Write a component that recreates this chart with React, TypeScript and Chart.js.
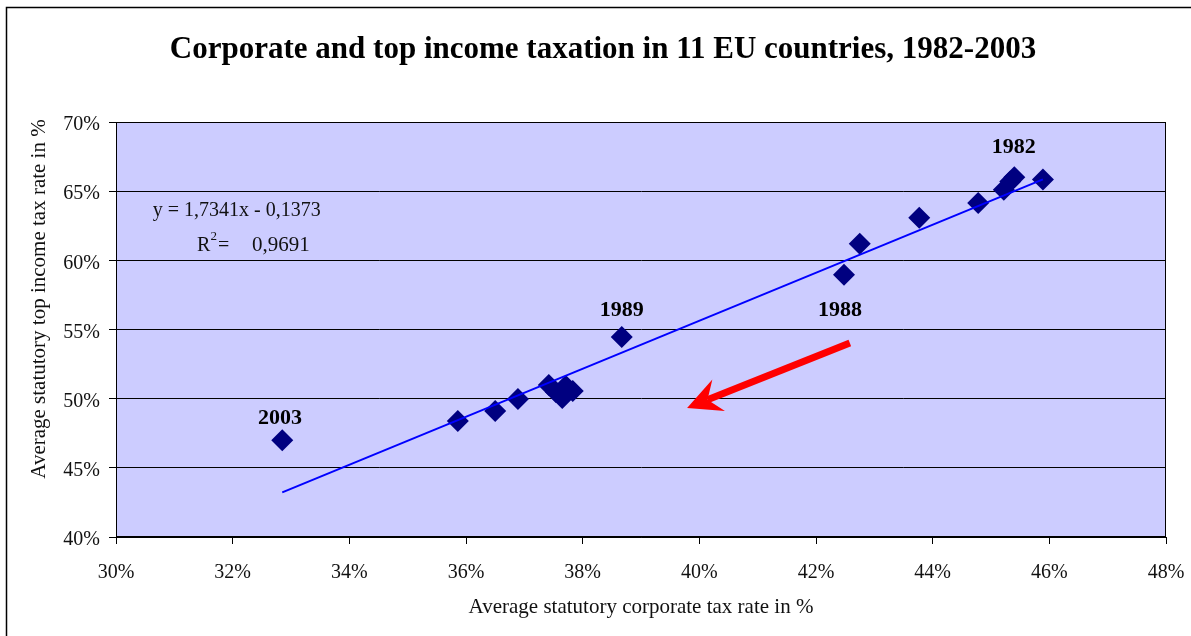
import React, { useEffect, useRef } from "react";
import { Chart, registerables } from "chart.js";

Chart.register(...registerables);

// Scatter points (x = average corporate tax rate %, y = average top income tax rate %)
const corporateRate = [45.89, 45.33, 45.4, 45.22, 44.78, 43.77, 42.75, 42.48, 38.67, 37.42, 37.54, 37.65, 37.83, 37.71, 36.89, 36.5, 35.86, 32.85];
const topIncomeRate = [65.85, 65.7, 66.0, 65.1, 64.15, 63.07, 61.2, 58.95, 54.46, 50.99, 50.48, 50.05, 50.56, 50.92, 49.98, 49.11, 48.39, 47.0];

// Linear trend line end points
const trendX = [32.85, 45.89];
const trendY = [43.23, 65.85];

const xTicks = [30, 32, 34, 36, 38, 40, 42, 44, 46, 48];
const yTicks = [40, 45, 50, 55, 60, 65, 70];

const titleText = "Corporate and top income taxation in 11 EU countries, 1982-2003";
const xTitle = "Average statutory corporate tax rate in %";
const yTitle = "Average statutory top income tax rate in %";

const yearLabels = ["1982", "1989", "1988", "2003"];
const yearLabelX = [45.39, 38.67, 42.41, 32.81];
const yearLabelY = [68.2, 56.41, 56.41, 48.6];

const equationText = "y = 1,7341x - 0,1373";
const equationPos = [30.63, 63.57];
const r2Pos = [31.39, 61.04];
const r2Value = "0,9691";

const arrowFrom = [42.58, 54.03];
const arrowTo = [39.79, 49.33];

const FONT = "'Liberation Serif', 'Times New Roman', serif";

const decorPlugin = {
  id: "decor",
  beforeDraw(chart: any) {
    const { ctx, chartArea } = chart;
    ctx.save();
    ctx.fillStyle = "#ffffff";
    ctx.fillRect(0, 0, chart.width, chart.height);
    ctx.fillStyle = "#CCCCFF";
    ctx.fillRect(chartArea.left, chartArea.top, chartArea.right - chartArea.left, chartArea.bottom - chartArea.top);
    // outer frame
    ctx.strokeStyle = "#000";
    ctx.lineWidth = 1.5;
    ctx.beginPath();
    ctx.moveTo(6.5, chart.height);
    ctx.lineTo(6.5, 7.5);
    ctx.lineTo(chart.width, 7.5);
    ctx.stroke();
    ctx.restore();
  },
  afterDraw(chart: any) {
    const { ctx, chartArea, scales } = chart;
    const xs = scales.x;
    const ys = scales.y;
    ctx.save();
    // plot frame
    ctx.strokeStyle = "#000";
    ctx.lineWidth = 1;
    ctx.strokeRect(Math.round(chartArea.left) + 0.5, Math.round(chartArea.top) + 0.5, Math.round(chartArea.right - chartArea.left) - 1, Math.round(chartArea.bottom - chartArea.top) - 1);

    // title
    ctx.fillStyle = "#000";
    ctx.font = `bold 31px ${FONT}`;
    ctx.textAlign = "center";
    ctx.textBaseline = "middle";
    ctx.fillText(titleText, 603, 50);

    // x axis title
    ctx.font = `21px ${FONT}`;
    ctx.fillStyle = "#111";
    ctx.fillText(xTitle, (chartArea.left + chartArea.right) / 2, 607);

    // y axis title
    ctx.save();
    ctx.translate(39, 299);
    ctx.rotate(-Math.PI / 2);
    ctx.fillText(yTitle, 0, 0);
    ctx.restore();

    // equation
    ctx.textAlign = "left";
    ctx.font = `20px ${FONT}`;
    ctx.fillStyle = "#111";
    ctx.fillText(equationText, xs.getPixelForValue(equationPos[0]), ys.getPixelForValue(equationPos[1]));
    const rx = xs.getPixelForValue(r2Pos[0]);
    const ry = ys.getPixelForValue(r2Pos[1]);
    ctx.fillText("R", rx, ry);
    const rw = ctx.measureText("R").width;
    ctx.fillText("=", rx + 21, ry);
    ctx.font = `21px ${FONT}`;
    ctx.fillText(r2Value, rx + 55, ry);
    ctx.font = `13px ${FONT}`;
    ctx.fillText("2", rx + rw, ry - 9);

    // year labels
    ctx.textAlign = "center";
    ctx.font = `bold 22px ${FONT}`;
    ctx.fillStyle = "#000";
    yearLabels.forEach((t, i) => {
      ctx.fillText(t, xs.getPixelForValue(yearLabelX[i]), ys.getPixelForValue(yearLabelY[i]));
    });

    // arrow
    const tx = xs.getPixelForValue(arrowFrom[0]);
    const ty = ys.getPixelForValue(arrowFrom[1]);
    const px = xs.getPixelForValue(arrowTo[0]);
    const py = ys.getPixelForValue(arrowTo[1]);
    const dx = px - tx;
    const dy = py - ty;
    const len = Math.hypot(dx, dy);
    const ux = dx / len;
    const uy = dy / len;
    const nx = -uy;
    const ny = ux;
    const headLen = 34;
    const headHalf = 17;
    const notch = 22;
    ctx.strokeStyle = "#FF0000";
    ctx.fillStyle = "#FF0000";
    ctx.lineWidth = 7;
    ctx.lineCap = "butt";
    ctx.beginPath();
    ctx.moveTo(tx, ty);
    ctx.lineTo(px - ux * notch, py - uy * notch);
    ctx.stroke();
    ctx.beginPath();
    ctx.moveTo(px, py);
    ctx.lineTo(px - ux * headLen + nx * headHalf, py - uy * headLen + ny * headHalf);
    ctx.lineTo(px - ux * notch, py - uy * notch);
    ctx.lineTo(px - ux * headLen - nx * headHalf, py - uy * headLen - ny * headHalf);
    ctx.closePath();
    ctx.fill();
    ctx.restore();
  },
};

export default function App() {
  const ref = useRef<HTMLCanvasElement | null>(null);
  useEffect(() => {
    if (!ref.current) return;
    const chart = new Chart(ref.current, {
      type: "scatter",
      data: {
        datasets: [
          {
            type: "line",
            label: "Trend",
            data: trendX.map((x, i) => ({ x, y: trendY[i] })),
            borderColor: "#0000FF",
            borderWidth: 2,
            pointRadius: 0,
            showLine: true,
            fill: false,
            order: 0,
          } as any,
          {
            type: "scatter",
            label: "Countries",
            data: corporateRate.map((x, i) => ({ x, y: topIncomeRate[i] })),
            pointStyle: "rectRot",
            pointRadius: 11,
            backgroundColor: "#000080",
            borderColor: "#000080",
            borderWidth: 0,
            order: 1,
          },
        ],
      },
      options: {
        animation: false,
        responsive: false,
        maintainAspectRatio: false,
        layout: { padding: { left: 0, right: 25, top: 122, bottom: 0 } },
        plugins: {
          legend: { display: false },
          tooltip: { enabled: false },
          title: { display: false },
        },
        scales: {
          x: {
            type: "linear",
            min: 30,
            max: 48,
            afterBuildTicks: (scale: any) => {
              scale.ticks = xTicks.map((v) => ({ value: v }));
            },
            afterFit: (scale: any) => {
              scale.height = 99;
              scale.paddingLeft = 0;
              scale.paddingRight = 0;
            },
            ticks: {
              callback: (v: any) => `${v}%`,
              font: { family: FONT, size: 20 },
              color: "#111",
              padding: 17,
              maxRotation: 0,
              autoSkip: false,
            },
            grid: {
              display: true,
              drawOnChartArea: false,
              drawTicks: true,
              tickLength: 7,
              color: "#000",
            },
            border: { display: true, color: "#000", width: 1 },
          },
          y: {
            type: "linear",
            min: 40,
            max: 70,
            afterBuildTicks: (scale: any) => {
              scale.ticks = yTicks.map((v) => ({ value: v }));
            },
            afterFit: (scale: any) => {
              scale.width = 116;
              scale.paddingTop = 0;
              scale.paddingBottom = 0;
            },
            ticks: {
              callback: (v: any) => `${v}%`,
              font: { family: FONT, size: 20 },
              color: "#111",
              padding: 9,
              labelOffset: 3,
              autoSkip: false,
            },
            grid: {
              display: true,
              drawOnChartArea: true,
              drawTicks: true,
              tickLength: 7,
              color: "#000",
              lineWidth: 1,
            },
            border: { display: true, color: "#000", width: 1 },
          },
        },
      },
      plugins: [decorPlugin],
    });
    return () => chart.destroy();
  }, []);
  return (
    <div style={{ position: "absolute", left: 0, top: 0, width: 1191, height: 636, background: "#fff" }}>
      <canvas ref={ref} width={1191} height={636} style={{ width: 1191, height: 636, display: "block" }} />
    </div>
  );
}
